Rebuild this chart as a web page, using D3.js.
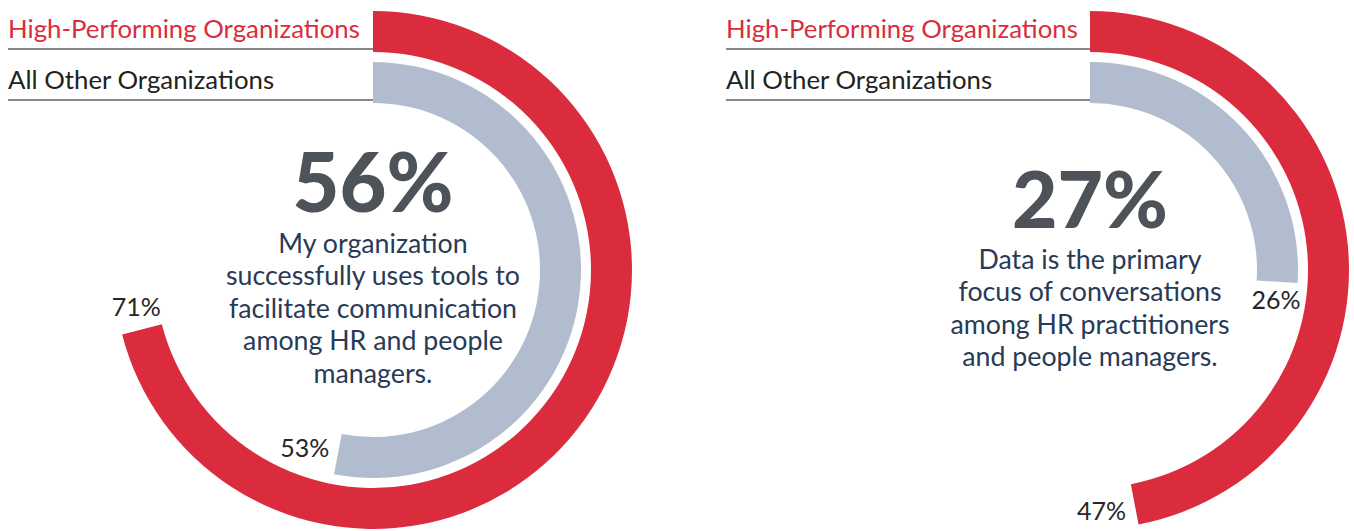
<!DOCTYPE html>
<html>
<head>
<meta charset="utf-8">
<script src="https://cdn.jsdelivr.net/npm/d3@7"></script>
<style>
  html, body { margin: 0; padding: 0; background: #ffffff; }
  svg { display: block; }
  text { font-family: Lato, "Open Sans", sans-serif; }
</style>
</head>
<body>
<svg id="chart" width="1354" height="531"></svg>
<script>
// ---------- data ----------
const seriesNames = ["High-Performing Organizations", "All Other Organizations"];
const highPerforming = [71, 47];
const allOther = [53, 26];
const headlines = ["56%", "27%"];
const descriptions = [
  ["My organization", "successfully uses tools to", "facilitate communication", "among HR and people", "managers."],
  ["Data is the primary", "focus of conversations", "among HR practitioners", "and people managers."]
];

// ---------- styling / layout ----------
const colors = { "High-Performing Organizations": "#db2c3d", "All Other Organizations": "#b1bdce" };
const legendTextColors = { "High-Performing Organizations": "#db2c3d", "All Other Organizations": "#222222" };
const centers = [{ x: 373, y: 270 }, { x: 1090, y: 270 }];
const legendX = [8, 726];

const svg = d3.select("#chart");

const angle = d3.scaleLinear().domain([0, 100]).range([0, 2 * Math.PI]);
const ring = d3.scaleBand()
  .domain([seriesNames[1], seriesNames[0]])
  .range([167, 259])
  .paddingInner(10 / 51);

const arc = d3.arc();

function fitFont(sel, targetWidth, base) {
  sel.style("font-size", base + "px");
  const w = sel.node().getComputedTextLength();
  const size = base * targetWidth / w;
  sel.style("font-size", size + "px");
  return size;
}

centers.forEach((c, i) => {
  const g = svg.append("g").attr("transform", `translate(${c.x},${c.y})`);
  const rows = [
    { name: seriesNames[0], value: highPerforming[i] },
    { name: seriesNames[1], value: allOther[i] }
  ];

  // arcs
  g.selectAll("path.bar")
    .data(rows)
    .join("path")
    .attr("class", "bar")
    .attr("fill", d => colors[d.name])
    .attr("d", d => arc({
      innerRadius: ring(d.name),
      outerRadius: ring(d.name) + ring.bandwidth(),
      startAngle: 0,
      endAngle: angle(d.value)
    }));

  // value labels, placed just past the end of each bar
  g.selectAll("text.val")
    .data(rows)
    .join("text")
    .attr("class", "val")
    .attr("fill", "#262626")
    .attr("text-anchor", "middle")
    .style("font-size", "25px")
    .text(d => d.value + "%")
    .each(function (d) {
      const t = d3.select(this);
      const w = this.getComputedTextLength();
      const h = 18;
      const a = angle(d.value);
      const r = ring(d.name) + ring.bandwidth() / 2;
      const ex = r * Math.sin(a), ey = -r * Math.cos(a);
      const tx = Math.cos(a), ty = Math.sin(a);
      const ext = (w / 2) * Math.abs(tx) + (h / 2) * Math.abs(ty) + 8;
      t.attr("x", ex + tx * ext).attr("y", ey + ty * ext).attr("dy", "0.36em");
    });

  // center text
  const n = descriptions[i].length;
  const lh = 32.5;
  const firstBase = -(n - 1) * lh / 2 + 47.5;
  const num = g.append("text")
    .attr("text-anchor", "middle")
    .attr("y", firstBase - 41)
    .attr("fill", "#4e5359")
    .style("font-weight", 900)
    .text(headlines[i]);
  fitFont(num, i === 0 ? 161 : 156, 76);

  const desc = g.append("text")
    .attr("text-anchor", "middle")
    .attr("fill", "#283a56");
  desc.selectAll("tspan")
    .data(descriptions[i])
    .join("tspan")
    .attr("x", 0)
    .attr("y", (d, j) => firstBase + j * lh)
    .text(d => d);
  // fit font size using a reference line
  const probe = g.append("text").text(descriptions[0][1]);
  const ds = fitFont(probe, 294, 25);
  probe.remove();
  desc.style("font-size", ds + "px");

  // legend
  const lg = svg.append("g");
  seriesNames.forEach((name, k) => {
    const base = 38 + k * 51;
    const t = lg.append("text")
      .attr("x", legendX[i])
      .attr("y", base)
      .attr("fill", legendTextColors[name])
      .text(name);
    const probe2 = lg.append("text").text(seriesNames[0]);
    const fs = fitFont(probe2, 352, 25);
    probe2.remove();
    t.style("font-size", fs + "px");
    lg.append("line")
      .attr("x1", legendX[i]).attr("x2", c.x)
      .attr("y1", base + 11).attr("y2", base + 11)
      .attr("stroke", "#5f5f5f")
      .attr("stroke-width", 1.5);
  });
});
</script>
</body>
</html>
